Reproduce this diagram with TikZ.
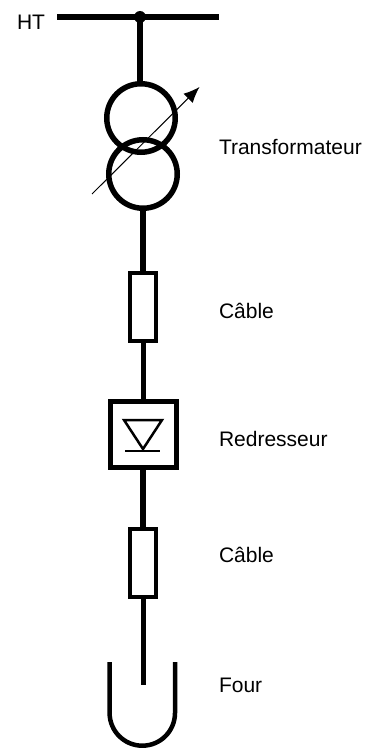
\documentclass[tikz,border=0pt]{standalone}
\usepackage{fontspec}
\setmainfont{Liberation Sans}
\usetikzlibrary{arrows.meta}

\begin{document}
\begin{tikzpicture}[x=1pt,y=1pt,line width=5.5pt,auto,
	coil/.style={circle,draw,inner sep=0pt,minimum size=68.5pt},
	cable/.style={rectangle,draw,line width=4pt,inner sep=0pt,minimum width=26pt,minimum height=68pt},
	rectifier/.style={rectangle,draw,line width=5pt,inner sep=0pt,minimum width=66pt,minimum height=66pt},
	label/.style={inner sep=0pt,outer sep=0pt,anchor=west,font=\fontsize{21}{21}\selectfont}]

\useasboundingbox(0,0)rectangle(374,-749);

\coordinate(bl)at(57,-17);
\coordinate(br)at(219,-17);
\coordinate(b0)at(140,-17);
\node[coil](t1)at(141,-118){};
\node[coil](t2)at(143,-174){};
\node[cable](c1)at(143.3,-307){};
\node[rectifier](r0)at(143,-434.5){};
\node[cable](c2)at(143.3,-563){};
\coordinate(f0)at(143,-685);
\coordinate(fl)at(109.6,-662);
\coordinate(fr)at(175,-662);

\node[circle,fill=black,inner sep=0pt,minimum size=12pt](d0)at(b0){};

\draw(bl)--(br);
\draw(d0.center)--(d0.center|-t1.north);
\draw(t2.south)--(t2.south|-c1.north);
\draw(c1.south)--(c1.south|-r0.north);
\draw(r0.south)--(r0.south|-c2.north);
\draw(c2.south)--(c2.south|-f0);
\draw[line width=4.5pt](fl)--++(0,-51)arc[start angle=180,end angle=360,radius=32.7]--(fr);

% diode
\coordinate(da)at(124,-420);
\coordinate(db)at(162,-420);
\coordinate(dc)at(143,-449);
\draw[line width=2.5pt,line join=miter](da)--(db)--(dc)--cycle;
\draw[line width=2.5pt](125,-451)--(160,-451);

% tap changer
\coordinate(a0)at(92,-194);
\coordinate(a1)at(199.5,-87);
\draw[line width=1pt,-{Latex[length=16pt,width=13pt]}](a0)--(a1);

\node[label](lht)at(17,-22){HT};
\node[label](ltr)at(219,-147){Transformateur};
\node[label](lc1)at(219,-311){Câble};
\node[label](lre)at(219,-439){Redresseur};
\node[label](lc2)at(219,-555){Câble};
\node[label](lfo)at(219,-685){Four};

\end{tikzpicture}
\end{document}
